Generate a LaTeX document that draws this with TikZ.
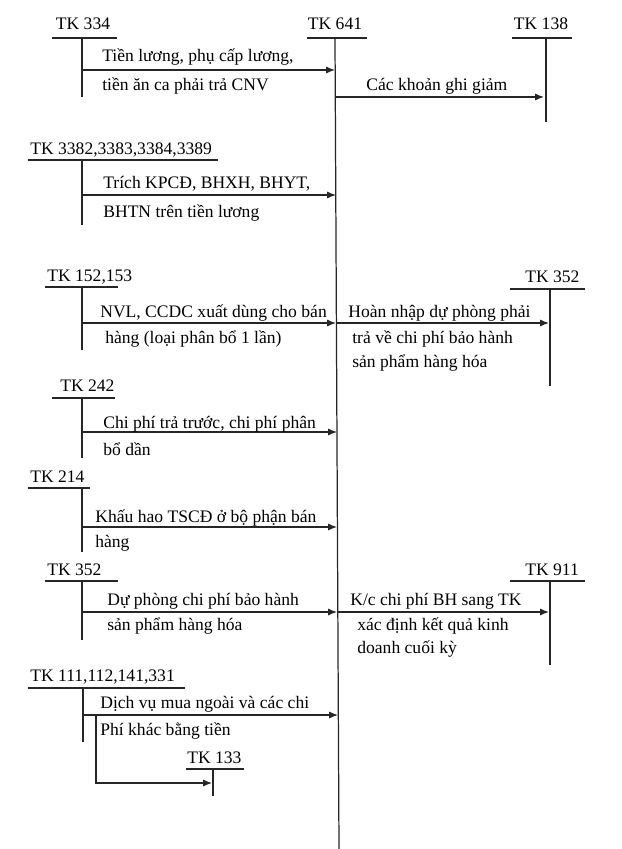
\documentclass[tikz,border=0pt]{standalone}
\usepackage{fontspec}
\setmainfont{Liberation Serif}
\usetikzlibrary{arrows.meta}
\begin{document}
\begin{tikzpicture}[x=0.02cm,y=-0.02cm,
  ln/.style={line width=0.7pt,black!85},
  arr/.style={ln,-{Latex[length=5pt,width=4pt]}},
  lab/.style={font=\fontsize{10}{12}\selectfont,anchor=base west,inner sep=0pt},
  acc/.style={font=\fontsize{10}{12}\selectfont,anchor=base,inner sep=0pt}]
\useasboundingbox (0,0) rectangle (622,849);
% TK 641
\node[acc] (t641) at (335,29) {TK 641};
\draw[ln] (307,38) -- (367,38);
\coordinate (a641) at (335,38); \coordinate (b641) at (339,849);
\draw[ln] (a641) -- (b641);
% TK 334
\node[acc] (t334) at (83,29) {TK 334};
\draw[ln] (52,38) -- (117,38);
\coordinate (a334) at (82,38); \coordinate (b334) at (82,97);
\draw[ln] (a334) -- (b334);
\coordinate (s1) at (82,70); \coordinate (e1) at (335,70);
\draw[arr] (s1) -- (e1);
\node[lab] at (102,61) {Tiền lương, phụ cấp lương,};
\node[lab] at (102,90) {tiền ăn ca phải trả CNV};
% TK 138
\node[acc] (t138) at (541,29) {TK 138};
\draw[ln] (512,38) -- (572,38);
\coordinate (a138) at (546,38); \coordinate (b138) at (546,122);
\draw[ln] (a138) -- (b138);
\coordinate (s2) at (335,97); \coordinate (e2) at (544,97);
\draw[arr] (s2) -- (e2);
\node[lab] at (366,90) {Các khoản ghi giảm};
% TK 3382...
\node[lab] (t338) at (30,154) {TK 3382,3383,3384,3389};
\draw[ln] (28,160) -- (218,160);
\coordinate (a338) at (82,160); \coordinate (b338) at (82,225);
\draw[ln] (a338) -- (b338);
\coordinate (s3) at (82,195); \coordinate (e3) at (336,195);
\draw[arr] (s3) -- (e3);
\node[lab] at (103,188) {Trích KPCĐ, BHXH, BHYT,};
\node[lab] at (103,217) {BHTN trên tiền lương};
% TK 152,153
\node[lab] (t152) at (47,281) {TK 152,153};
\draw[ln] (45,287) -- (118,287);
\coordinate (a152) at (82,287); \coordinate (b152) at (82,350);
\draw[ln] (a152) -- (b152);
\coordinate (s4) at (82,323); \coordinate (e4) at (336,323);
\draw[arr] (s4) -- (e4);
\node[lab] at (100,317) {NVL, CCDC xuất dùng cho bán};
\node[lab] at (105,343) {hàng (loại phân bổ 1 lần)};
% TK 352 right
\node[lab] (t352r) at (525,282) {TK 352};
\draw[ln] (510,289) -- (585,289);
\coordinate (a352r) at (550,289); \coordinate (b352r) at (550,386);
\draw[ln] (a352r) -- (b352r);
\coordinate (s5) at (336,323); \coordinate (e5) at (549,323);
\draw[arr] (s5) -- (e5);
\node[lab] at (348,317) {Hoàn nhập dự phòng phải};
\node[lab] at (352,343) {trả về chi phí bảo hành};
\node[lab] at (352,367) {sản phẩm hàng hóa};
% TK 242
\node[lab] (t242) at (60,391) {TK 242};
\draw[ln] (52,398) -- (115,398);
\coordinate (a242) at (82,398); \coordinate (b242) at (82,458);
\draw[ln] (a242) -- (b242);
\coordinate (s6) at (82,432); \coordinate (e6) at (337,432);
\draw[arr] (s6) -- (e6);
\node[lab] at (103,428) {Chi phí trả trước, chi phí phân};
\node[lab] at (103,455) {bổ dần};
% TK 214
\node[lab] (t214) at (30,482) {TK 214};
\draw[ln] (28,488) -- (90,488);
\coordinate (a214) at (82,488); \coordinate (b214) at (82,552);
\draw[ln] (a214) -- (b214);
\coordinate (s7) at (82,527); \coordinate (e7) at (337,527);
\draw[arr] (s7) -- (e7);
\node[lab] at (95,522) {Khấu hao TSCĐ ở bộ phận bán};
\node[lab] at (95,547) {hàng};
% TK 352 left
\node[lab] (t352l) at (47,575) {TK 352};
\draw[ln] (45,581) -- (118,581);
\coordinate (a352l) at (82,581); \coordinate (b352l) at (82,640);
\draw[ln] (a352l) -- (b352l);
\coordinate (s8) at (82,612); \coordinate (e8) at (337,612);
\draw[arr] (s8) -- (e8);
\node[lab] at (107,605) {Dự phòng chi phí bảo hành};
\node[lab] at (107,630) {sản phẩm hàng hóa};
% TK 911
\node[lab] (t911) at (525,575) {TK 911};
\draw[ln] (510,581) -- (585,581);
\coordinate (a911) at (550,581); \coordinate (b911) at (550,665);
\draw[ln] (a911) -- (b911);
\coordinate (s9) at (337,612); \coordinate (e9) at (549,612);
\draw[arr] (s9) -- (e9);
\node[lab] at (350,605) {K/c chi phí BH sang TK};
\node[lab] at (357,630) {xác định kết quả kinh};
\node[lab] at (357,653) {doanh cuối kỳ};
% TK 111...
\node[lab] (t111) at (30,681) {TK 111,112,141,331};
\draw[ln] (28,688) -- (185,688);
\coordinate (a111) at (83,688); \coordinate (b111) at (83,742);
\draw[ln] (a111) -- (b111);
\coordinate (s10) at (83,715); \coordinate (e10) at (338,715);
\draw[arr] (s10) -- (e10);
\node[lab] at (100,708) {Dịch vụ mua ngoài và các chi};
\node[lab] at (100,735) {Phí khác bằng tiền};
% TK 133
\node[lab] (t133) at (187,763) {TK 133};
\draw[ln] (186,769) -- (244,769);
\coordinate (a133) at (213,769); \coordinate (b133) at (213,796);
\draw[ln] (a133) -- (b133);
\coordinate (s11) at (96,715); \coordinate (e11) at (212,783);
\draw[arr] (s11) |- (e11);
\end{tikzpicture}
\end{document}
